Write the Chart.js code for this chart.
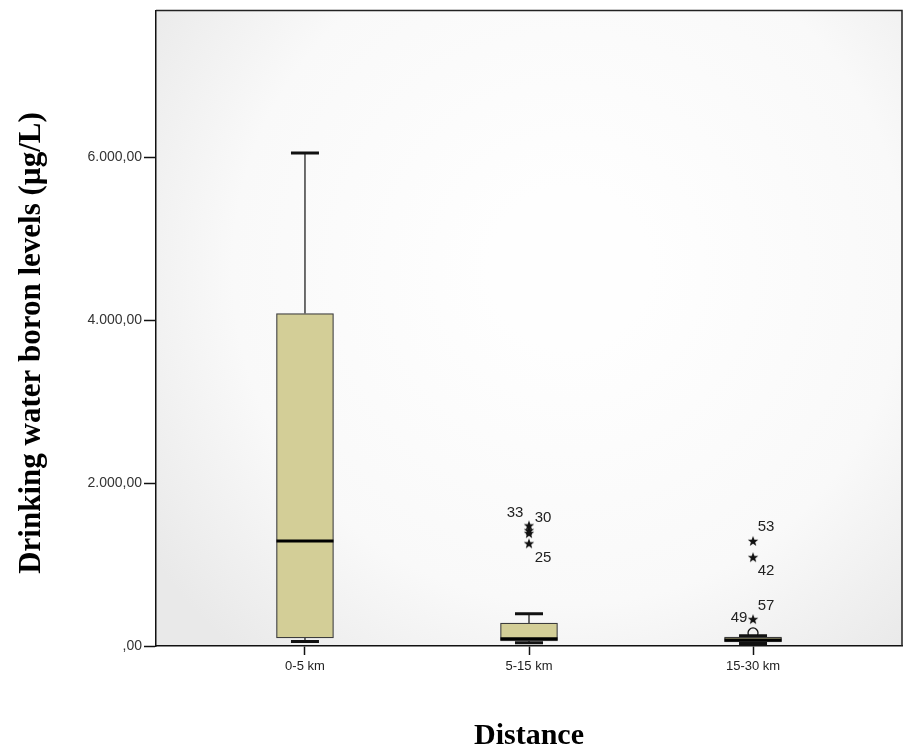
<!DOCTYPE html>
<html>
<head>
<meta charset="utf-8">
<script src="https://cdn.jsdelivr.net/npm/chart.js@4.4.1/dist/chart.umd.min.js"></script>
<style>
  html, body { margin: 0; padding: 0; background: #fff; }
  canvas { display: block; }
</style>
</head>
<body>
<canvas id="chart" width="904" height="747"></canvas>
<script>
// === data ===
const labels = ['0-5 km', '5-15 km', '15-30 km'];
const whiskerLow  = [55, 40, 30];
const q1          = [100, 62, 50];
const median      = [1290, 88, 75];
const q3          = [4080, 282, 110];
const whiskerHigh = [6050, 395, 125];

// extremes (stars) and outliers (circles)
const extremeGroup = [1, 1, 1, 1, 2, 2, 2];
const extremeValue = [1480, 1420, 1385, 1260, 1290, 1090, 330];
const extremeId    = ['33', '30', '', '25', '53', '42', '57'];
const outlierGroup = [2];
const outlierValue = [160];
const outlierId    = ['49'];

const yTicks = [0, 2000, 4000, 6000];

// label offsets (px) next to each point
const extremeLabelOffset = [[-14, -13], [14, -12], [0, 0], [14, 15], [13, -14], [13, 14], [13, -13]];
const outlierLabelOffset = [[-14, -15]];

// === helpers ===
const fmtNum = v => {
  if (v === 0) return ',00';
  const s = String(Math.round(v)).replace(/\B(?=(\d{3})+(?!\d))/g, '.');
  return s + ',00';
};

const starImg = (() => {
  const c = document.createElement('canvas');
  c.width = 12; c.height = 12;
  const g = c.getContext('2d');
  g.fillStyle = '#111';
  g.beginPath();
  for (let i = 0; i < 10; i++) {
    const r = i % 2 === 0 ? 5.5 : 2.3;
    const a = -Math.PI / 2 + i * Math.PI / 5;
    const px = 6 + r * Math.cos(a), py = 6.5 + r * Math.sin(a);
    i === 0 ? g.moveTo(px, py) : g.lineTo(px, py);
  }
  g.closePath();
  g.fill();
  return c;
})();

const BOX_W = 57, CAP_W = 28;

// === plugin: background, whiskers, medians, labels, titles ===
const boxPlotExtras = {
  id: 'boxPlotExtras',
  beforeDraw(chart) {
    const { ctx, chartArea: a } = chart;
    ctx.save();
    ctx.fillStyle = '#fff';
    ctx.fillRect(0, 0, chart.width, chart.height);
    const cx = (a.left + a.right) / 2 + 40, cy = (a.top + a.bottom) / 2 - 60;
    const grd = ctx.createRadialGradient(cx, cy, 80, cx, cy, Math.max(a.width, a.height) * 0.68);
    grd.addColorStop(0, '#fefefe');
    grd.addColorStop(0.6, '#f9f9f9');
    grd.addColorStop(1, '#e9e9e9');
    ctx.fillStyle = grd;
    ctx.fillRect(a.left, a.top, a.width, a.height);
    ctx.restore();
  },
  beforeDatasetsDraw(chart) {
    const { ctx, scales: { x, y } } = chart;
    ctx.save();
    ctx.strokeStyle = '#111';
    labels.forEach((_, i) => {
      const px = x.getPixelForValue(i);
      ctx.lineWidth = 1.2;
      ctx.beginPath();
      ctx.moveTo(px, y.getPixelForValue(q3[i]));
      ctx.lineTo(px, y.getPixelForValue(whiskerHigh[i]));
      ctx.moveTo(px, y.getPixelForValue(q1[i]));
      ctx.lineTo(px, y.getPixelForValue(whiskerLow[i]));
      ctx.stroke();
      ctx.lineWidth = 3;
      ctx.beginPath();
      [whiskerHigh[i], whiskerLow[i]].forEach(v => {
        const py = y.getPixelForValue(v);
        ctx.moveTo(px - CAP_W / 2, py);
        ctx.lineTo(px + CAP_W / 2, py);
      });
      ctx.stroke();
    });
    ctx.restore();
  },
  afterDatasetsDraw(chart) {
    const { ctx, chartArea: a, scales: { x, y } } = chart;
    ctx.save();
    // medians
    ctx.strokeStyle = '#000';
    ctx.lineWidth = 3;
    labels.forEach((_, i) => {
      const px = x.getPixelForValue(i), py = y.getPixelForValue(median[i]);
      ctx.beginPath();
      ctx.moveTo(px - BOX_W / 2, py);
      ctx.lineTo(px + BOX_W / 2, py);
      ctx.stroke();
    });
    // point labels
    ctx.fillStyle = '#222';
    ctx.font = '15px "Liberation Sans", Arial, sans-serif';
    ctx.textAlign = 'center';
    ctx.textBaseline = 'middle';
    extremeId.forEach((id, i) => {
      if (!id) return;
      const [dx, dy] = extremeLabelOffset[i];
      ctx.fillText(id, x.getPixelForValue(extremeGroup[i]) + dx, y.getPixelForValue(extremeValue[i]) + dy);
    });
    outlierId.forEach((id, i) => {
      const [dx, dy] = outlierLabelOffset[i];
      ctx.fillText(id, x.getPixelForValue(outlierGroup[i]) + dx, y.getPixelForValue(outlierValue[i]) + dy);
    });
    // frame top / right
    ctx.strokeStyle = '#222';
    ctx.lineWidth = 1.5;
    ctx.beginPath();
    ctx.moveTo(a.left, a.top);
    ctx.lineTo(a.right, a.top);
    ctx.lineTo(a.right, a.bottom);
    ctx.stroke();
    // axis titles
    ctx.fillStyle = '#000';
    ctx.font = 'bold 30px "Liberation Serif", "Times New Roman", serif';
    ctx.textBaseline = 'alphabetic';
    ctx.textAlign = 'center';
    ctx.fillText('Distance', (a.left + a.right) / 2, 744);
    ctx.font = 'bold 31px "Liberation Serif", "Times New Roman", serif';
    ctx.translate(40, 343);
    ctx.rotate(-Math.PI / 2);
    ctx.fillText('Drinking water boron levels (µg/L)', 0, 0);
    ctx.restore();
  }
};

// === chart ===
new Chart(document.getElementById('chart'), {
  type: 'bar',
  data: {
    datasets: [
      {
        type: 'bar',
        data: labels.map((_, i) => ({ x: i, y: [q1[i], q3[i]] })),
        backgroundColor: '#d3ce97',
        borderColor: '#3c3c3c',
        borderWidth: 1.2,
        borderSkipped: false,
        barThickness: BOX_W
      },
      {
        type: 'scatter',
        data: extremeValue.map((v, i) => ({ x: extremeGroup[i], y: v })),
        pointStyle: starImg,
        pointRadius: 6
      },
      {
        type: 'scatter',
        data: outlierValue.map((v, i) => ({ x: outlierGroup[i], y: v })),
        pointStyle: 'circle',
        pointRadius: 5,
        borderColor: '#111',
        borderWidth: 1.3,
        backgroundColor: 'rgba(0,0,0,0)'
      }
    ]
  },
  plugins: [boxPlotExtras],
  options: {
    responsive: false,
    devicePixelRatio: 1,
    animation: false,
    events: [],
    layout: { autoPadding: false, padding: { top: 10, right: 2, left: 0, bottom: 0 } },
    plugins: { legend: { display: false }, tooltip: { enabled: false } },
    scales: {
      x: {
        type: 'linear',
        offset: false,
        min: -0.665,
        max: 2.665,
        afterBuildTicks: s => { s.ticks = labels.map((_, i) => ({ value: i })); },
        afterFit: s => { s.height = 101; s.paddingLeft = 0; s.paddingRight = 0; },
        ticks: {
          autoSkip: false,
          maxRotation: 0,
          padding: 4,
          color: '#222',
          font: { family: '"Liberation Sans", Arial, sans-serif', size: 13 },
          callback: v => labels[v]
        },
        grid: { offset: false, drawOnChartArea: false, tickLength: 9, color: '#111', tickWidth: 1.5 },
        border: { display: true, color: '#111', width: 1.5 }
      },
      y: {
        type: 'linear',
        min: 0,
        max: 7800,
        afterBuildTicks: s => { s.ticks = yTicks.map(v => ({ value: v })); },
        afterFit: s => { s.width = 156; },
        ticks: {
          padding: 2,
          color: '#333',
          font: { family: '"Liberation Sans", Arial, sans-serif', size: 14 },
          callback: v => fmtNum(v)
        },
        grid: { drawOnChartArea: false, tickLength: 12, color: '#111', tickWidth: 1.5 },
        border: { display: true, color: '#111', width: 1.5 }
      }
    }
  }
});
</script>
</body>
</html>
